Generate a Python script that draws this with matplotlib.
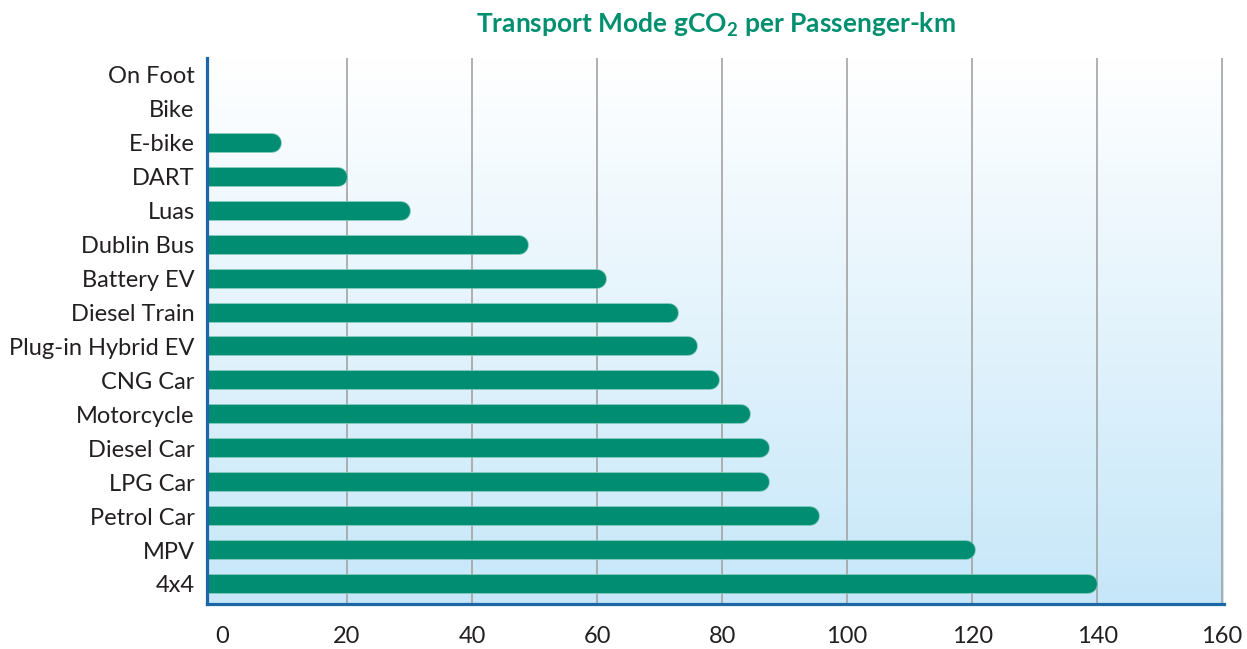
import matplotlib
matplotlib.use('Agg')
import matplotlib.pyplot as plt
import numpy as np
import matplotlib.patheffects as pe
from matplotlib.colors import LinearSegmentedColormap

categories = ["On Foot", "Bike", "E-bike", "DART", "Luas", "Dublin Bus", "Battery EV",
              "Diesel Train", "Plug-in Hybrid EV", "CNG Car", "Motorcycle", "Diesel Car",
              "LPG Car", "Petrol Car", "MPV", "4x4"]
values = [0, 0, 9.5, 20, 30, 49, 61.5, 73, 76, 79.5, 84.5, 87.5, 87.5, 95.5, 120.5, 140]
xticks = [0, 20, 40, 60, 80, 100, 120, 140, 160]
title = "Transport Mode gCO$_\\mathbf{2}$ per Passenger-km"

plt.rcParams['font.family'] = ['Lato', 'DejaVu Sans']
plt.rcParams['mathtext.fontset'] = 'custom'
plt.rcParams['mathtext.bf'] = 'Lato:bold'
plt.rcParams['mathtext.rm'] = 'Lato'

W, H = 1247, 649
fig = plt.figure(figsize=(W / 100, H / 100), dpi=100)
left_px, right_px, top_px, bot_px = 207, 1224, 58, 604
ax = fig.add_axes([left_px / W, 1 - bot_px / H, (right_px - left_px) / W, (bot_px - top_px) / H])

xmin, xmax = -2.4, 160.3
n = len(categories)
ypos = np.arange(n)[::-1]

cmap = LinearSegmentedColormap.from_list('bg', ['#ffffff', '#c6e7f9'])
grad = np.linspace(0, 1, 256).reshape(-1, 1)
ax.imshow(grad, extent=[0, 1, 0, 1], transform=ax.transAxes, aspect='auto',
          cmap=cmap, origin='upper', zorder=0)

ax.set_xlim(xmin, xmax)
ax.set_ylim(-0.59, n - 0.5)

for t in xticks[1:]:
    ax.axvline(t, color='#a3a3a3', lw=1.2, zorder=1)

bar_px = 18
lw_pt = bar_px * 72 / 100
px_per_unit = (right_px - left_px) / (xmax - xmin)
r = (bar_px / 2) / px_per_unit
bar_color = '#008d71'
for y, v in zip(ypos, values):
    if v <= 0:
        continue
    ax.plot([xmin - 5, v - r], [y, y], color=bar_color, lw=lw_pt,
            solid_capstyle='round', zorder=2,
            path_effects=[pe.Stroke(linewidth=lw_pt + 1.2, foreground='#72c2b2'), pe.Normal()])

ax.set_yticks(ypos)
ax.set_yticklabels(categories)
ax.set_xticks(xticks)
ax.set_xticklabels([str(t) for t in xticks])
ax.tick_params(axis='both', length=0, labelsize=17, colors='#231f20')
ax.tick_params(axis='x', pad=16)
ax.tick_params(axis='y', pad=9)

for s in ['top', 'right']:
    ax.spines[s].set_visible(False)
for s in ['left', 'bottom']:
    ax.spines[s].set_color('#1a66a6')
    ax.spines[s].set_linewidth(2.3)
    ax.spines[s].set_zorder(3)

fig.text((left_px + right_px) / 2 / W, 1 - 25 / H, title, ha='center', va='center',
         color='#00906f', fontsize=19, fontweight='bold')

fig.savefig('out.png', dpi=100)
